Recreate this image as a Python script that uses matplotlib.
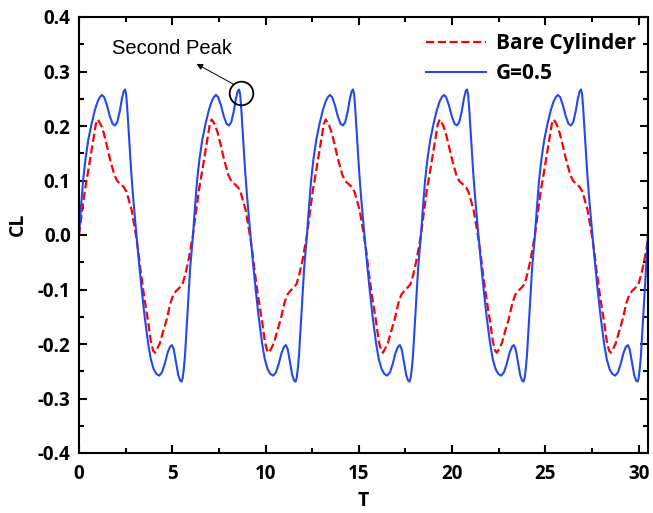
import matplotlib
matplotlib.use("Agg")
import matplotlib.pyplot as plt
from matplotlib.ticker import MultipleLocator
from matplotlib import font_manager as fm

# ---- data (T, CL) ----
g_t1 = [0.00,0.10,0.22,0.35,0.50,0.68,0.85,1.00,1.12,1.23,1.35,1.50,1.65,1.80,1.93,2.05,2.18,2.30,2.40,2.47,2.53,2.60,2.70,2.80,2.90,3.00,3.08,3.20,3.36,3.52,3.71,3.85,4.00,4.15,4.30,4.45,4.60,4.75,4.88,4.98,5.08,5.20,5.32,5.42,5.50,5.56,5.62,5.68,5.77,5.86,5.96]
g_t2 = [6.11,6.21,6.33,6.46,6.61,6.79,6.96,7.11,7.23,7.34,7.46,7.61,7.76,7.91,8.04,8.16,8.29,8.41,8.51,8.58,8.64,8.71,8.81,8.91,9.01,9.11,9.19,9.31,9.47,9.63,9.82,9.96,10.11,10.26,10.41,10.56,10.71,10.86,10.99,11.09,11.19,11.31,11.43,11.53,11.61,11.67,11.73,11.79,11.88,11.97,12.07]
g_t3 = [12.22,12.32,12.44,12.57,12.72,12.90,13.07,13.22,13.34,13.45,13.57,13.72,13.87,14.02,14.15,14.27,14.40,14.52,14.62,14.69,14.75,14.82,14.92,15.02,15.12,15.22,15.30,15.42,15.58,15.74,15.93,16.07,16.22,16.37,16.52,16.67,16.82,16.97,17.10,17.20,17.30,17.42,17.54,17.64,17.72,17.78,17.84,17.90,17.99,18.08,18.18]
g_t4 = [18.33,18.43,18.55,18.68,18.83,19.01,19.18,19.33,19.45,19.56,19.68,19.83,19.98,20.13,20.26,20.38,20.51,20.63,20.73,20.80,20.86,20.93,21.03,21.13,21.23,21.33,21.41,21.53,21.69,21.85,22.04,22.18,22.33,22.48,22.63,22.78,22.93,23.08,23.21,23.31,23.41,23.53,23.65,23.75,23.83,23.89,23.95,24.01,24.10,24.19,24.29]
g_t5 = [24.44,24.54,24.66,24.79,24.94,25.12,25.29,25.44,25.56,25.67,25.79,25.94,26.09,26.24,26.37,26.49,26.62,26.74,26.84,26.91,26.97,27.04,27.14,27.24,27.34,27.44,27.52,27.64,27.80,27.96,28.15,28.29,28.44,28.59,28.74,28.89,29.04,29.19,29.32,29.42,29.52,29.64,29.76,29.86,29.94,30.00,30.06,30.12,30.21,30.30,30.40,30.50]
g_cycle = [0.000,0.048,0.100,0.140,0.175,0.205,0.229,0.245,0.253,0.257,0.253,0.238,0.218,0.204,0.201,0.207,0.226,0.250,0.264,0.267,0.258,0.225,0.170,0.115,0.070,0.030,0.000,-0.045,-0.100,-0.150,-0.200,-0.228,-0.246,-0.255,-0.258,-0.252,-0.236,-0.216,-0.205,-0.202,-0.210,-0.234,-0.257,-0.267,-0.269,-0.262,-0.245,-0.222,-0.170,-0.115,-0.060]
g_cl = g_cycle + g_cycle + g_cycle + g_cycle + g_cycle + [0.000]
g_t = g_t1 + g_t2 + g_t3 + g_t4 + g_t5

b_t1 = [0.00,0.15,0.32,0.48,0.62,0.78,0.90,1.00,1.08,1.20,1.32,1.48,1.62,1.75,1.90,2.05,2.25,2.42,2.55,2.68,2.82,2.93,3.05,3.18,3.30,3.50,3.71,3.85,3.97,4.07,4.20,4.34,4.50,4.70,4.90,5.05,5.20,5.38,5.55,5.70,5.86,5.98]
b_t2 = [6.11,6.26,6.43,6.59,6.73,6.89,7.01,7.11,7.19,7.31,7.43,7.59,7.73,7.86,8.01,8.16,8.36,8.53,8.66,8.79,8.93,9.04,9.16,9.29,9.41,9.61,9.82,9.96,10.08,10.18,10.31,10.45,10.61,10.81,11.01,11.16,11.31,11.49,11.66,11.81,11.97,12.09]
b_t3 = [12.22,12.37,12.54,12.70,12.84,13.00,13.12,13.22,13.30,13.42,13.54,13.70,13.84,13.97,14.12,14.27,14.47,14.64,14.77,14.90,15.04,15.15,15.27,15.40,15.52,15.72,15.93,16.07,16.19,16.29,16.42,16.56,16.72,16.92,17.12,17.27,17.42,17.60,17.77,17.92,18.08,18.20]
b_t4 = [18.33,18.48,18.65,18.81,18.95,19.11,19.23,19.33,19.41,19.53,19.65,19.81,19.95,20.08,20.23,20.38,20.58,20.75,20.88,21.01,21.15,21.26,21.38,21.51,21.63,21.83,22.04,22.18,22.30,22.40,22.53,22.67,22.83,23.03,23.23,23.38,23.53,23.71,23.88,24.03,24.19,24.31]
b_t5 = [24.44,24.59,24.76,24.92,25.06,25.22,25.34,25.44,25.52,25.64,25.76,25.92,26.06,26.19,26.34,26.49,26.69,26.86,26.99,27.12,27.26,27.37,27.49,27.62,27.74,27.94,28.15,28.29,28.41,28.51,28.64,28.78,28.94,29.14,29.34,29.49,29.64,29.82,29.99,30.14,30.30,30.42,30.50]
b_cycle = [0.000,0.040,0.083,0.115,0.145,0.178,0.203,0.212,0.208,0.200,0.188,0.166,0.145,0.128,0.110,0.099,0.093,0.087,0.079,0.063,0.046,0.024,0.000,-0.030,-0.065,-0.115,-0.160,-0.195,-0.212,-0.216,-0.208,-0.198,-0.178,-0.155,-0.125,-0.110,-0.103,-0.097,-0.090,-0.072,-0.048,-0.025]
b_cl = b_cycle + b_cycle + b_cycle + b_cycle + b_cycle + [0.000]
b_t = b_t1 + b_t2 + b_t3 + b_t4 + b_t5

x_ticks = [0, 5, 10, 15, 20, 25, 30]
y_ticks = [-0.4, -0.3, -0.2, -0.1, 0.0, 0.1, 0.2, 0.3, 0.4]
peak_mark = (8.66, 0.26)
arrow_tip = (6.30, 0.314)
arrow_tail = (8.26, 0.277)
note_pos = (4.98, 0.343)


def pick_bold():
    for fam in ['Open Sans', 'Roboto', 'Lato', 'Liberation Sans', 'DejaVu Sans']:
        try:
            path = fm.findfont(fm.FontProperties(family=fam, weight='bold'), fallback_to_default=False)
        except Exception:
            continue
        name = path.lower()
        if 'bold' in name and fam.lower().replace(' ', '') in name.replace(' ', '').replace('-', '').replace('_', ''):
            return fam
    return 'DejaVu Sans'


BFAM = pick_bold()
BOLD = [BFAM, 'DejaVu Sans']

fig = plt.figure(figsize=(6.53, 5.13), dpi=100)
ax = fig.add_axes([79/653, 1-453/513, (648-79)/653, (453-17)/513])

ax.plot(b_t, b_cl, color='#ff0000', ls='--', lw=1.6, label='Bare Cylinder')
ax.plot(g_t, g_cl, color='#2448f0', ls='-', lw=1.5, label='G=0.5')

ax.set_xlim(0, 30.5)
ax.set_ylim(-0.4, 0.4)
ax.set_xticks(x_ticks)
ax.set_yticks(y_ticks)
ax.set_xticklabels([str(v) for v in x_ticks])
ax.set_yticklabels(['%.1f' % v for v in y_ticks])
ax.xaxis.set_minor_locator(MultipleLocator(2.5))
ax.yaxis.set_minor_locator(MultipleLocator(0.05))
ax.tick_params(which='both', direction='in', top=True, right=True, width=1.5)
ax.tick_params(which='major', length=6, pad=8)
ax.tick_params(axis='y', which='major', pad=6)
ax.tick_params(which='minor', length=3.3)
for lab in ax.get_xticklabels() + ax.get_yticklabels():
    lab.set_fontfamily(BOLD)
    lab.set_fontweight('bold')
    lab.set_fontsize(13.5)
for s in ax.spines.values():
    s.set_linewidth(1.5)

ax.set_xlabel('T', fontfamily=BOLD, fontweight='bold', fontsize=14, labelpad=5)
ax.set_ylabel('CL', fontfamily=BOLD, fontweight='bold', fontsize=14, labelpad=4)
ax.yaxis.set_label_coords(-0.09, 0.525)

leg = ax.legend(loc='upper right', bbox_to_anchor=(1.004, 0.997), frameon=False,
                prop={'family': BOLD, 'weight': 'bold', 'size': 15},
                handlelength=2.9, handletextpad=0.45, labelspacing=0.45, borderpad=0.2)

ax.plot([peak_mark[0]], [peak_mark[1]], marker='o', ms=17, mfc='none', mec='black', mew=1.3)
ax.annotate('', xy=arrow_tip, xytext=arrow_tail,
            arrowprops=dict(arrowstyle='-|>', color='black', lw=0.7, mutation_scale=9, shrinkA=0, shrinkB=0))
ax.text(note_pos[0], note_pos[1], 'Second Peak', ha='center', va='center',
        fontsize=14.5, fontfamily=['Liberation Sans', 'DejaVu Sans'])

fig.savefig('out.png', dpi=100)
